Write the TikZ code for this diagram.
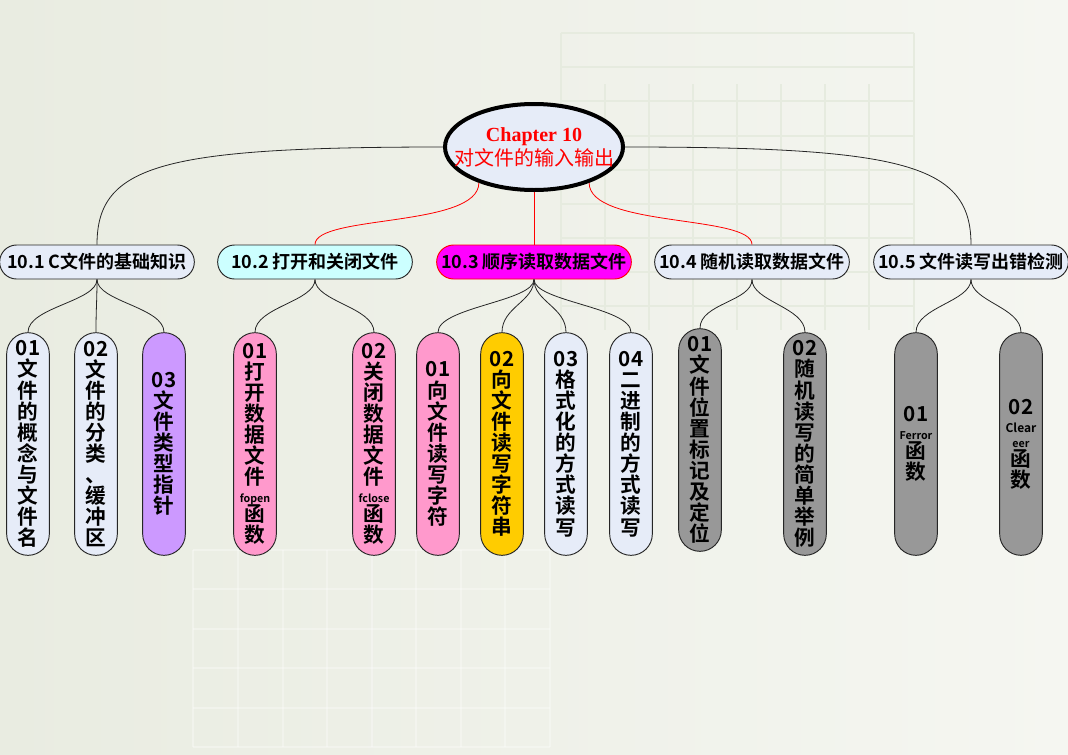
\documentclass[tikz,border=0pt]{standalone}
\usepackage{fontspec}
\setmainfont{Liberation Serif}
\newfontfamily\cjk{Noto Sans CJK SC}[BoldFont={Noto Sans CJK SC Bold}]
\usetikzlibrary{shapes.geometric}

\definecolor{paperleft}{RGB}{233,236,225}
\definecolor{paperright}{RGB}{245,246,241}
\definecolor{gridline}{RGB}{230,235,223}
\definecolor{lavender}{RGB}{230,236,248}
\definecolor{palecyan}{RGB}{204,255,255}
\definecolor{hotpink}{RGB}{255,0,255}
\definecolor{violet}{RGB}{204,153,255}
\definecolor{rosepink}{RGB}{255,153,204}
\definecolor{gold}{RGB}{255,204,0}
\definecolor{slate}{RGB}{152,152,152}

% small latin words inside the pills
\newcommand{\sm}[1]{{\fontsize{8}{8.5}\selectfont #1}}

\begin{document}
\begin{tikzpicture}[
		x=0.75pt, y=-0.75pt,
		root/.style={ellipse, draw=black, line width=3pt, fill=lavender, minimum width=133.5pt, minimum height=64.5pt, inner xsep=-14pt, inner ysep=0pt, align=center, text=red},
		section/.style={draw=black!85, line width=0.7pt, rounded corners=12.7pt, minimum width=146pt, minimum height=25.5pt, inner sep=0pt, font=\cjk\bfseries\fontsize{13.5}{15}\selectfont},
		leaf/.style={draw=black!85, line width=0.7pt, rounded corners=16pt, minimum width=32pt, minimum height=167pt, inner sep=0pt, align=center, font=\cjk\bfseries\fontsize{15.5}{15.8}\selectfont},
		link/.style={black!85, line width=0.6pt},
		hot link/.style={red, line width=0.6pt},
		faint grid/.style={gridline, line width=0.8pt},
		white grid/.style={white, opacity=0.3, line width=0.8pt}
		]
		
		% ---------------------------------------------------------
		% Paper and faint grids behind the map
		% ---------------------------------------------------------
		\shade[use as bounding box, left color=paperleft, right color=paperright] (0,0) rectangle (1068,754);
		\foreach \y in {33,67,101,136,170,204,238,272,306} {
			\draw[faint grid] (561,\y) -- (914,\y);
		}
		\foreach \x in {561,605,649,693,737,781,825,869,914} {
			\draw[faint grid] (\x,84) -- (\x,330);
		}
		\draw[faint grid] (561,33) -- (561,84) (914,33) -- (914,84);
		\foreach \y in {550,589,629,668,708,747} {
			\draw[white grid] (193,\y) -- (550,\y);
		}
		\foreach \x in {193,238,283,327,372,416,461,505,550} {
			\draw[white grid] (\x,550) -- (\x,747);
		}
		
		% ---------------------------------------------------------
		% Centre topic
		% ---------------------------------------------------------
		\node[root] (root) at (534,147) {\fontsize{15}{17}\selectfont\bfseries Chapter 10\\[1pt]
			\cjk\fontsize{15}{17}\selectfont 对文件的输入输出};
		
		% ---------------------------------------------------------
		% Sections
		% ---------------------------------------------------------
		\node[section, fill=lavender] (s1) at (97,262) {10.1 C文件的基础知识};
		\node[section, fill=palecyan] (s2) at (315,262) {10.2 打开和关闭文件};
		\node[section, fill=hotpink, draw=red] (s3) at (534,262) {10.3 顺序读取数据文件};
		\node[section, fill=lavender] (s4) at (752,262) {10.4 随机读取数据文件};
		\node[section, fill=lavender] (s5) at (971,262) {10.5 文件读写出错检测};
		
		\draw[link] (root.west) .. controls +(-280,0) and +(0,-80) .. (s1.north);
		\draw[link] (root.east) .. controls +(280,0) and +(0,-80) .. (s5.north);
		\draw[hot link] (root.213) .. controls +(0,45) and +(0,-30) .. (s2.north);
		\draw[hot link] (root.south) -- (s3.north);
		\draw[hot link] (root.327) .. controls +(0,45) and +(0,-30) .. (s4.north);
		
		% ---------------------------------------------------------
		% 10.1 leaves
		% ---------------------------------------------------------
		\node[leaf, fill=lavender] (l11) at (28,444) {01\\文\\件\\的\\概\\念\\与\\文\\件\\名};
		\node[leaf, fill=lavender] (l12) at (96,444) {02\\文\\件\\的\\分\\类\\、\\缓\\冲\\区};
		\node[leaf, fill=violet] (l13) at (164,444) {03\\文\\件\\类\\型\\指\\针};
		
		% ---------------------------------------------------------
		% 10.2 leaves
		% ---------------------------------------------------------
		\node[leaf, fill=rosepink] (l21) at (255,444) {01\\打\\开\\数\\据\\文\\件\\[-2.5pt]\sm{fopen}\\[-1.5pt]函\\数};
		\node[leaf, fill=rosepink] (l22) at (374,444) {02\\关\\闭\\数\\据\\文\\件\\[-2.5pt]\sm{fclose}\\[-1.5pt]函\\数};
		
		% ---------------------------------------------------------
		% 10.3 leaves
		% ---------------------------------------------------------
		\node[leaf, fill=rosepink] (l31) at (438,444) {01\\向\\文\\件\\读\\写\\字\\符};
		\node[leaf, fill=gold] (l32) at (502,444) {02\\向\\文\\件\\读\\写\\字\\符\\串};
		\node[leaf, fill=lavender] (l33) at (566,444) {03\\格\\式\\化\\的\\方\\式\\读\\写};
		\node[leaf, fill=lavender] (l34) at (631,444) {04\\二\\进\\制\\的\\方\\式\\读\\写};
		
		% ---------------------------------------------------------
		% 10.4 and 10.5 leaves
		% ---------------------------------------------------------
		\node[leaf, fill=slate] (l41) at (700,440) {01\\文\\件\\位\\置\\标\\记\\及\\定\\位};
		\node[leaf, fill=slate] (l42) at (805,444) {02\\随\\机\\读\\写\\的\\简\\单\\举\\例};
		\node[leaf, fill=slate] (l51) at (916,444) {01\\[-2.3pt]\sm{Ferror}\\[-1.5pt]函\\数};
		\node[leaf, fill=slate] (l52) at (1021,444) {02\\[-2.3pt]{\fontsize{9}{9.5}\selectfont Clear}\\[-4.5pt]\sm{eer}\\[-1.5pt]函\\数};
		
		% Section to leaf curves
		\foreach \s/\leaves in {s1/{l11,l12,l13}, s2/{l21,l22}, s3/{l31,l32,l33,l34}, s4/{l41,l42}, s5/{l51,l52}} {
			\foreach \leaf in \leaves {
				\draw[link] (\s.south) .. controls +(0,22) and +(0,-25) .. (\leaf.north);
			}
		}
		
	\end{tikzpicture}
\end{document}
